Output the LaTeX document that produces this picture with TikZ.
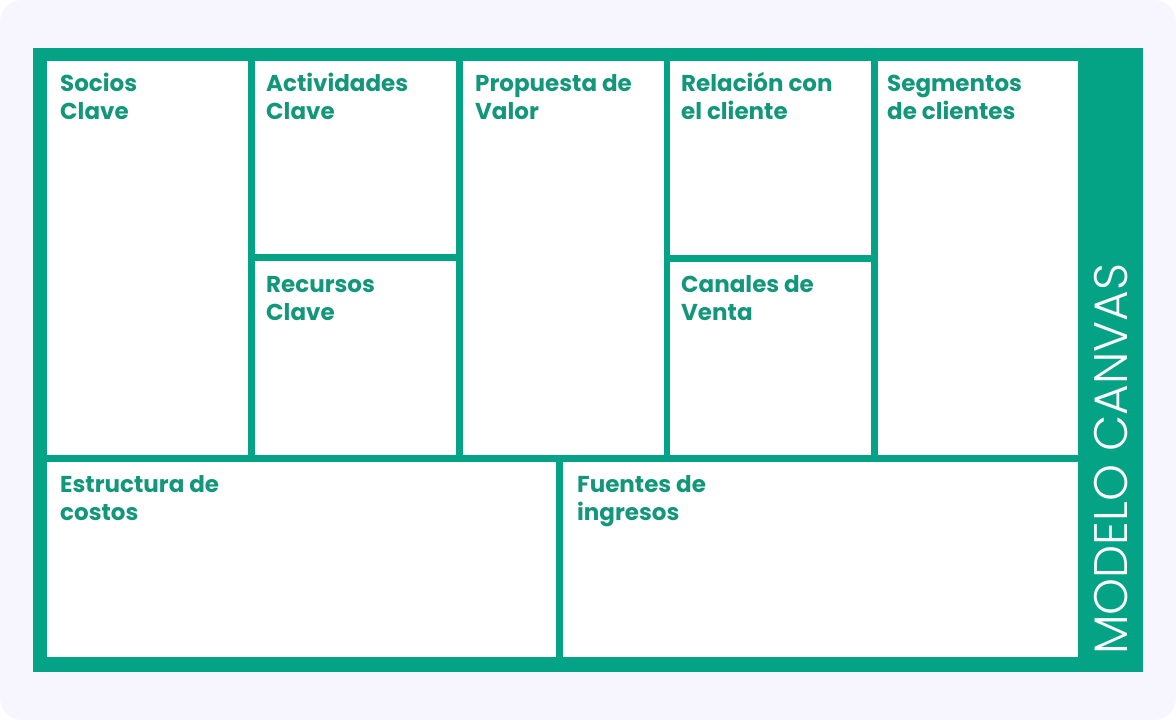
\documentclass[tikz,border=0pt]{standalone}
\usepackage{fontspec}
\setmainfont{Poppins}
\newfontfamily\thinfont{Poppins Light}
\definecolor{bgpage}{HTML}{F7F6FE}
\definecolor{canvasgreen}{HTML}{04A385}
\definecolor{labelgreen}{HTML}{13977B}
\tikzset{
  cell/.style={fill=white},
  lbl/.style={anchor=base west, inner sep=0pt, align=left, text=labelgreen,
    font=\fontsize{23}{28.5}\selectfont\bfseries},
}
\begin{document}
\begin{tikzpicture}[x=1pt,y=-1pt]
\useasboundingbox (0,0) rectangle (1176,720);
\fill[white] (0,0) rectangle (1176,720);
\fill[bgpage, rounded corners=22pt] (0,0) rectangle (1176,720);
% green board
\fill[canvasgreen] (33,48) rectangle (1143,672);
% top row
\fill[cell] (47,61) rectangle (248,455);
\fill[cell] (255,61) rectangle (456,254);
\fill[cell] (255,261) rectangle (456,455);
\fill[cell] (463,61) rectangle (664,455);
\fill[cell] (670,61) rectangle (871,255);
\fill[cell] (670,262) rectangle (871,455);
\fill[cell] (878,61) rectangle (1078,455);
% bottom row
\fill[cell] (47,462) rectangle (556,657);
\fill[cell] (563,462) rectangle (1078,657);
% labels (anchor = baseline of last line)
\node[lbl] (socios) at (60,119.5) {Socios\\Clave};
\node[lbl] (actividades) at (266,119.5) {Actividades\\Clave};
\node[lbl] (propuesta) at (475,119.5) {Propuesta de\\Valor};
\node[lbl] (relacion) at (681,119.5) {Relación con\\el cliente};
\node[lbl] (segmentos) at (887,119.5) {Segmentos\\de clientes};
\node[lbl] (recursos) at (266,320.5) {Recursos\\Clave};
\node[lbl] (canales) at (681,320.5) {Canales de\\Venta};
\node[lbl] (estructura) at (60,520.5) {Estructura de\\costos};
\node[lbl] (fuentes) at (577,520.5) {Fuentes de\\ingresos};
\node[rotate=90, anchor=base west, inner sep=0pt, text=white,
  font=\thinfont\fontsize{47}{47}\selectfont] (titulo) at (1127,655) {MODELO CANVAS};
\end{tikzpicture}
\end{document}
